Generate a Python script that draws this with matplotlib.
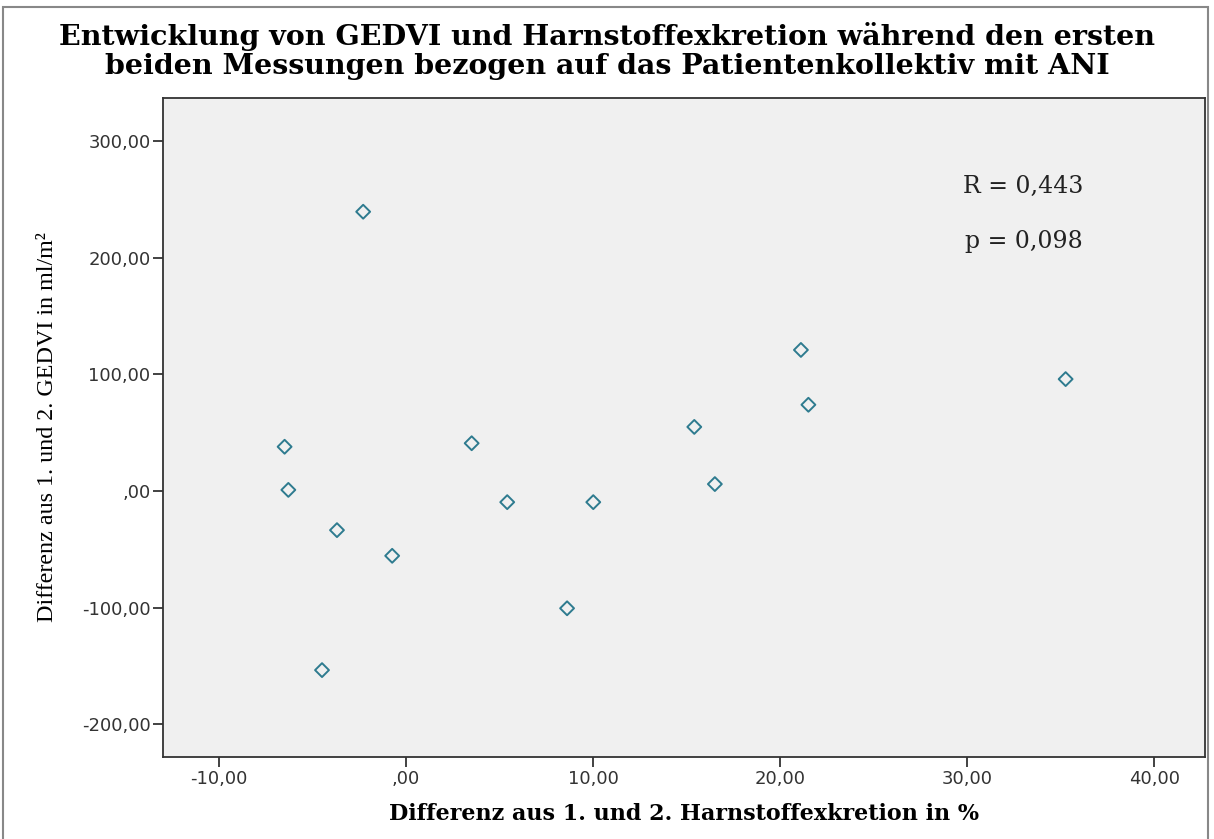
import matplotlib.pyplot as plt
from matplotlib.patches import Rectangle
from matplotlib.ticker import FuncFormatter

# Differenz Harnstoffexkretion (%) und GEDVI (ml/m2)
harnstoff = [-2.3, -6.5, -6.3, -3.7, -4.5, -0.75, 3.5, 5.4, 8.6, 10.0, 15.4, 16.5, 21.1, 21.5, 35.25]
gedvi = [239.5, 38, 1, -33.5, -153.5, -55.5, 41, -9.5, -100.5, -9.5, 55, 6, 121, 74, 96]

xticks = [-10, 0, 10, 20, 30, 40]
yticks = [-200, -100, 0, 100, 200, 300]


def de_fmt(v, pos=None):
    s = f"{v:.2f}".replace(".", ",")
    if s.startswith("0,"):
        s = s[1:]
    if s.startswith("-0,"):
        s = "-" + s[2:]
    return s


fig = plt.figure(figsize=(12.14, 8.39), dpi=100)
ax = fig.add_axes([163 / 1214, 1 - 757 / 839, (1205 - 163) / 1214, (757 - 98) / 839])
ax.set_facecolor("#f0f0f0")

ax.scatter(harnstoff, gedvi, marker="D", s=50, facecolors="none",
           edgecolors="#2e7b8f", linewidths=1.4, zorder=3)

ax.set_xlim(-13.0, 42.7)
ax.set_ylim(-228, 337)
ax.set_xticks(xticks)
ax.set_yticks(yticks)
ax.xaxis.set_major_formatter(FuncFormatter(de_fmt))
ax.yaxis.set_major_formatter(FuncFormatter(de_fmt))
ax.tick_params(length=7, width=1.3, color="#333333", labelsize=13, labelcolor="#333333", pad=2)
for sp in ax.spines.values():
    sp.set_color("#333333")
    sp.set_linewidth(1.3)

ax.set_xlabel("Differenz aus 1. und 2. Harnstoffexkretion in %", family="DejaVu Serif",
              fontweight="bold", fontsize=16, labelpad=11)
ax.set_ylabel("Differenz aus 1. und 2. GEDVI in ml/m²", family="Liberation Serif",
              fontsize=17.3, labelpad=17)

ax.text(0.883, 0.865, "R = 0,443", transform=ax.transAxes, family="DejaVu Serif",
        fontsize=17, ha="right", va="center", color="#222222")
ax.text(0.883, 0.783, "p = 0,098", transform=ax.transAxes, family="DejaVu Serif",
        fontsize=17, ha="right", va="center", color="#222222")

fig.suptitle("Entwicklung von GEDVI und Harnstoffexkretion während den ersten\n"
             "beiden Messungen bezogen auf das Patientenkollektiv mit ANI",
             family="DejaVu Serif", fontweight="bold", fontsize=20.5,
             y=1 - 51 / 839, va="center", linespacing=1.12)

fig.patches.append(Rectangle((3 / 1214, -0.01), 1205 / 1214, 1 - 7 / 839 + 0.01,
                             transform=fig.transFigure, fill=False,
                             edgecolor="#888888", linewidth=1.5))

fig.savefig("out.png", dpi=100)
